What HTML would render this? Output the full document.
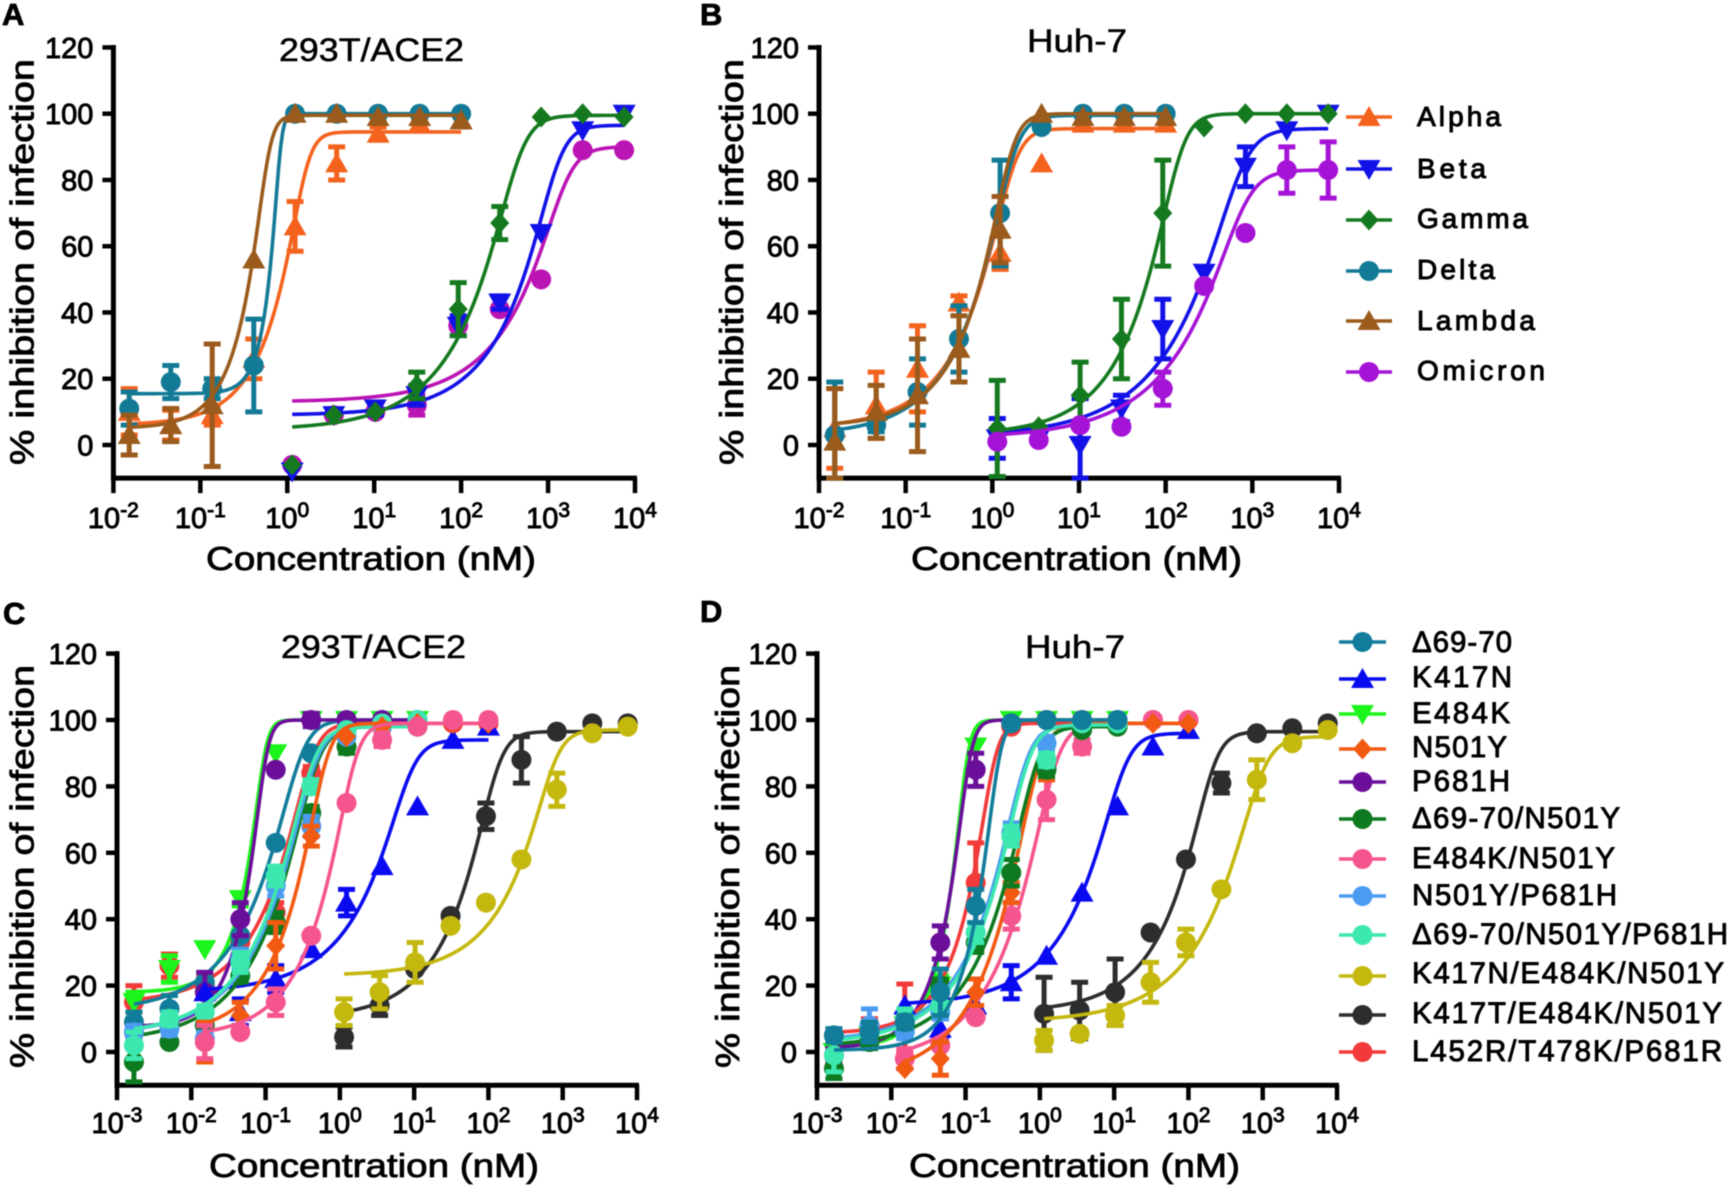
<!DOCTYPE html>
<html lang="en">
<head>
<meta charset="utf-8">
<title>Inhibition of infection curves</title>
<style>
html,body{margin:0;padding:0;background:#fff;}
#figure{display:block;filter:blur(0.6px);}
text{font-family:"Liberation Sans",sans-serif;fill:#000;}
</style>
</head>
<body>
<svg id="figure" xmlns="http://www.w3.org/2000/svg" width="1734" height="1192" viewBox="0 0 1734 1192"></svg>
<script>
// ---------- shared dose series (nM) ----------
const dosesAB_low = [0.0152, 0.0457, 0.137, 0.412, 1.23, 3.70, 11.1, 33.3, 100];
const dosesAB_high = [1.14, 3.43, 10.3, 30.9, 92.6, 278, 833, 2500, 7500];
const dosesCD_low = [0.00169, 0.00508, 0.0152, 0.0457, 0.137, 0.412, 1.23, 3.70, 11.1];
const dosesCD_mid = [0.0152, 0.0457, 0.137, 0.412, 1.23, 3.70, 11.1, 33.3, 100];
const dosesCD_full = [0.00169, 0.00508, 0.0152, 0.0457, 0.137, 0.412, 1.23, 3.70, 11.1, 33.3, 100];
const dosesCD_high = [1.14, 3.43, 10.3, 30.9, 92.6, 278, 833, 2500, 7500];

const yTickValues = [0, 20, 40, 60, 80, 100, 120];
const xExponentsAB = [-2, -1, 0, 1, 2, 3, 4];
const xExponentsCD = [-3, -2, -1, 0, 1, 2, 3, 4];

// ---------- panel A: means, errors, fit [bottom, top, midpoint, hill, asymmetry] ----------
const A_alpha_y = [10, 6, 9, 26, 66, 85, 94, 97, 98];
const A_alpha_err = [7, 4.5, 3, 6, 7.5, 5, 2, 2, 2];
const A_alpha_fit = [6, 94.5, 1.6, 5.3, 0.22];
const A_beta_y = [-8, 9, 11, 15, 36, 43, 64, 95, 100];
const A_beta_err = [1, 1, 2, 3, 3, 2, 1, 1, 1];
const A_beta_fit = [9, 96.5, 1259, 3.8, 0.22];
const A_gamma_y = [-6, 9, 10, 18, 41, 67, 99, 100, 99];
const A_gamma_err = [1, 1, 1, 4, 8, 5, 0.5, 0.5, 0.5];
const A_gamma_fit = [4.5, 99.5, 452, 3.5, 0.22];
const A_delta_y = [11, 19, 17, 24, 100, 100, 100, 100, 100];
const A_delta_err = [5, 5, 3, 14, 0.5, 0.5, 0.5, 0.5, 0.5];
const A_delta_fit = [15.5, 100, 0.824, 14, 0.22];
const A_lambda_y = [3, 6, 12, 56, 100, 100, 99, 99, 98];
const A_lambda_err = [6, 5, 18.5, 1, 0.5, 0.5, 0.5, 0.5, 0.5];
const A_lambda_fit = [5, 99.5, 0.593, 7, 0.22];
const A_omicron_y = [-6, 9, 10, 12, 36, 41, 50, 89, 89];
const A_omicron_err = [1, 1, 1, 3, 1, 1, 1, 1, 1];
const A_omicron_fit = [13, 90, 1585, 3.5, 0.22];

// ---------- panel B ----------
const B_alpha_y = [5, 12, 23, 43, 58, 85, 97, 97, 97];
const B_alpha_err = [12, 10, 13, 2, 5, 0.5, 1, 1, 1];
const B_alpha_fit = [5, 95.5, 1.68, 4, 0.22];
const B_beta_y = [2, 2, 0, 11, 35, 52, 84, 95, 100];
const B_beta_err = [6, 1, 14, 4, 9, 1, 6, 1, 1];
const B_beta_fit = [2.5, 95.5, 720, 3, 0.22];
const B_gamma_y = [5, 5.5, 15, 32, 70, 96, 100, 100, 100];
const B_gamma_err = [14.5, 1, 10, 12, 16, 1, 0.5, 0.5, 0.5];
const B_gamma_fit = [3, 100, 141, 4, 0.22];
const B_delta_y = [3, 6, 16, 32, 70, 96, 100, 100, 100];
const B_delta_err = [16, 2, 10, 10, 16, 1, 0.5, 0.5, 0.5];
const B_delta_fit = [3, 99.5, 1.68, 4, 0.22];
const B_lambda_y = [1, 10, 15, 29, 65, 100, 99, 99, 99];
const B_lambda_err = [16, 8, 17, 10, 10, 0.5, 1, 1, 1];
const B_lambda_fit = [5.5, 100, 1.58, 4.5, 0.22];
const B_omicron_y = [1, 1.5, 6, 5.5, 17, 48, 64, 83, 83];
const B_omicron_err = [1, 1, 1, 1, 5, 1, 1, 7, 8.5];
const B_omicron_fit = [2, 83, 780, 3, 0.22];

// ---------- panel C ----------
const C_d6970_y = [9, 13, 21, 35, 63, 90, 100, 100, 100];
const C_d6970_err = [3, 4, 3, 4, 1, 1, 1, 1, 1];
const C_d6970_fit = [12, 100, 0.282, 3.2, 0.22];
const C_k417n_y = [18, 12, 22, 31, 45, 56, 74, 94, 98];
const C_k417n_err = [1, 4, 4, 1, 4, 1, 1, 1, 1];
const C_k417n_fit = [18, 94, 8.6, 3.2, 0.22];
const C_e484k_y = [15, 25, 31, 46, 90, 100, 100, 100, 100];
const C_e484k_err = [3, 4, 1, 2, 1, 1, 1, 1, 1];
const C_e484k_fit = [18, 100, 0.0946, 7, 0.22];
const C_n501y_y = [3, 11, 32, 65, 95, 98, 99, 99, 99];
const C_n501y_err = [6, 4, 7, 3, 1, 1, 1, 1, 1];
const C_n501y_fit = [5, 99, 0.615, 4, 0.22];
const C_p681h_y = [6, 9, 18, 40, 85, 100, 100, 100, 100];
const C_p681h_err = [2, 2, 6, 5, 1, 2, 1, 1, 1];
const C_p681h_fit = [7.5, 100, 0.098, 6.5, 0.22];
const C_d6970n501y_y = [-3, 3, 8, 23, 39, 72, 92, 98, 98];
const C_d6970n501y_err = [6, 1, 2, 2, 3, 2, 2, 1, 1];
const C_d6970n501y_fit = [3, 98, 0.45, 3.2, 0.22];
const C_e484kn501y_y = [3, 6, 15, 35, 75, 94, 98, 100, 100];
const C_e484kn501y_err = [5, 1, 4, 1, 1, 2, 1, 1, 1];
const C_e484kn501y_fit = [4.5, 99, 1.5, 4, 0.22];
const C_n501yp681h_y = [6, 7, 4, 28, 50, 68, 95, 98, 98];
const C_n501yp681h_err = [2, 2, 2, 3, 3, 3, 1, 1, 1];
const C_n501yp681h_fit = [5, 98, 0.43, 3.2, 0.22];
const C_triple_y = [2, 10, 12, 27, 53, 80, 97, 99, 100];
const C_triple_err = [4, 2, 2, 3, 3, 2, 1, 1, 1];
const C_triple_fit = [5, 98, 0.40, 3.2, 0.22];
const C_k417ne_y = [12, 18, 27, 38, 45, 58, 79, 96, 98];
const C_k417ne_err = [4, 5, 6, 1, 1, 1, 5, 1, 1];
const C_k417ne_fit = [23, 97, 753, 3.5, 0.22];
const C_k417te_y = [4.5, 14, 25, 41, 71, 88, 96.5, 99, 99];
const C_k417te_err = [3, 3, 1, 1, 4, 7, 1, 1, 1];
const C_k417te_fit = [10, 96.5, 127, 3.6, 0.22];
const C_l452r_y = [15, 26, 20, 33, 42, 84, 97, 99, 99, 99, 99];
const C_l452r_err = [5, 3.5, 3, 3, 3, 2, 1, 1, 1, 1, 1];
const C_l452r_fit = [14.5, 99, 0.4, 3.5, 0.22];

// ---------- panel D ----------
const D_d6970_y = [5, 6, 9, 18, 44, 99, 100, 100, 100];
const D_d6970_err = [2, 3, 2, 7, 5, 1, 1, 1, 1];
const D_d6970_fit = [0.5, 100, 0.27, 6, 0.22];
const D_k417n_y = [14, 7, 14, 21, 29, 48, 74, 92, 97];
const D_k417n_err = [1, 3, 1, 5, 1, 1, 1, 1, 1];
const D_k417n_fit = [14, 96, 13, 3.2, 0.22];
const D_e484k_y = [0, 5, 8, 20, 92, 100, 100, 100, 100];
const D_e484k_err = [2, 2, 2, 3, 1, 1, 1, 1, 1];
const D_e484k_fit = [1.5, 100, 0.101, 7, 0.22];
const D_n501y_y = [-5, -2, 18, 48, 84, 97, 99, 99, 99];
const D_n501y_err = [1, 5, 4, 3, 2, 1, 1, 1, 1];
const D_n501y_fit = [-8, 99, 0.89, 3.4, 0.22];
const D_p681h_y = [-1, 4, 9, 33, 85, 99, 100, 100, 100];
const D_p681h_err = [2, 2, 2, 5, 5, 1, 1, 1, 1];
const D_p681h_fit = [1, 100, 0.109, 6, 0.22];
const D_d6970n501y_y = [-5, 3, 7, 20, 33, 54, 85, 97, 98];
const D_d6970n501y_err = [3, 2, 2, 2, 3, 4, 2, 1, 1];
const D_d6970n501y_fit = [1.5, 98, 0.83, 3.4, 0.22];
const D_e484kn501y_y = [-2, 2, 10.5, 41, 76, 92, 98, 100, 100];
const D_e484kn501y_err = [3, 1, 1, 4, 6, 2, 1, 1, 1];
const D_e484kn501y_fit = [-3, 99, 1.52, 3.3, 0.22];
const D_n501yp681h_y = [5, 8, 6, 12, 36, 66, 93, 99, 100];
const D_n501yp681h_err = [2, 5, 2, 2, 3, 3, 2, 1, 1];
const D_n501yp681h_fit = [3, 98.5, 0.6, 3.4, 0.22];
const D_triple_y = [-1, 6, 10, 14, 36, 65, 88, 99, 99];
const D_triple_err = [5, 3, 3, 3, 3, 3, 2, 1, 1];
const D_triple_fit = [2.5, 98.5, 0.635, 3.4, 0.22];
const D_k417ne_y = [3.5, 5.5, 11, 21, 33, 49, 82, 93, 97];
const D_k417ne_err = [3, 1, 3, 6, 4, 1, 6, 1, 1];
const D_k417ne_fit = [9, 95, 933, 3, 0.22];
const D_k417te_y = [11.5, 12.5, 18, 36, 58, 81, 96, 97.5, 99];
const D_k417te_err = [11, 8.5, 10, 1, 1, 3, 1, 1, 1];
const D_k417te_fit = [12, 96.5, 207, 3.6, 0.22];
const D_l452r_y = [5, 8, 10, 14, 51, 98, 100, 100, 100, 100, 100];
const D_l452r_err = [1, 2, 10.5, 2, 12, 1, 1, 1, 1, 1, 1];
const D_l452r_fit = [5.5, 99, 0.233, 5, 0.22];

// ---------- series definitions ----------
const seriesA = [
  {id:'alpha', color:'#f4631e', shape:'up', doses:dosesAB_low, y:A_alpha_y, err:A_alpha_err, fit:A_alpha_fit},
  {id:'omicron', color:'#bb14b4', shape:'circle', doses:dosesAB_high, y:A_omicron_y, err:A_omicron_err, fit:A_omicron_fit},
  {id:'beta', color:'#1212e8', shape:'down', doses:dosesAB_high, y:A_beta_y, err:A_beta_err, fit:A_beta_fit},
  {id:'gamma', color:'#157a1f', shape:'diamond', doses:dosesAB_high, y:A_gamma_y, err:A_gamma_err, fit:A_gamma_fit},
  {id:'delta', color:'#137a96', shape:'circle', doses:dosesAB_low, y:A_delta_y, err:A_delta_err, fit:A_delta_fit},
  {id:'lambda', color:'#9a5b1c', shape:'up', doses:dosesAB_low, y:A_lambda_y, err:A_lambda_err, fit:A_lambda_fit}
];
const seriesB = [
  {id:'alpha', color:'#f4631e', shape:'up', doses:dosesAB_low, y:B_alpha_y, err:B_alpha_err, fit:B_alpha_fit},
  {id:'beta', color:'#1212e8', shape:'down', doses:dosesAB_high, y:B_beta_y, err:B_beta_err, fit:B_beta_fit},
  {id:'gamma', color:'#157a1f', shape:'diamond', doses:dosesAB_high, y:B_gamma_y, err:B_gamma_err, fit:B_gamma_fit},
  {id:'delta', color:'#137a96', shape:'circle', doses:dosesAB_low, y:B_delta_y, err:B_delta_err, fit:B_delta_fit},
  {id:'lambda', color:'#9a5b1c', shape:'up', doses:dosesAB_low, y:B_lambda_y, err:B_lambda_err, fit:B_lambda_fit},
  {id:'omicron', color:'#a514d6', shape:'circle', doses:dosesAB_high, y:B_omicron_y, err:B_omicron_err, fit:B_omicron_fit}
];
const seriesC = [
  {id:'l452r-t478k-p681r', color:'#f23a3a', shape:'circle', doses:dosesCD_full, y:C_l452r_y, err:C_l452r_err, fit:C_l452r_fit},
  {id:'e484k', color:'#1bf51b', shape:'down', doses:dosesCD_low, y:C_e484k_y, err:C_e484k_err, fit:C_e484k_fit},
  {id:'d69-70', color:'#127d9b', shape:'circle', doses:dosesCD_low, y:C_d6970_y, err:C_d6970_err, fit:C_d6970_fit},
  {id:'p681h', color:'#6b0f9a', shape:'circle', doses:dosesCD_low, y:C_p681h_y, err:C_p681h_err, fit:C_p681h_fit},
  {id:'k417n', color:'#0a0af0', shape:'up', doses:dosesCD_mid, y:C_k417n_y, err:C_k417n_err, fit:C_k417n_fit},
  {id:'d69-70-n501y', color:'#0d7a1f', shape:'circle', doses:dosesCD_low, y:C_d6970n501y_y, err:C_d6970n501y_err, fit:C_d6970n501y_fit},
  {id:'n501y-p681h', color:'#4b9cf0', shape:'circle', doses:dosesCD_low, y:C_n501yp681h_y, err:C_n501yp681h_err, fit:C_n501yp681h_fit},
  {id:'d69-70-n501y-p681h', color:'#3de8b0', shape:'circle', doses:dosesCD_low, y:C_triple_y, err:C_triple_err, fit:C_triple_fit},
  {id:'n501y', color:'#f25a12', shape:'diamond', doses:dosesCD_mid, y:C_n501y_y, err:C_n501y_err, fit:C_n501y_fit},
  {id:'e484k-n501y', color:'#f5558f', shape:'circle', doses:dosesCD_mid, y:C_e484kn501y_y, err:C_e484kn501y_err, fit:C_e484kn501y_fit},
  {id:'k417t-e484k-n501y', color:'#2d2d2d', shape:'circle', doses:dosesCD_high, y:C_k417te_y, err:C_k417te_err, fit:C_k417te_fit},
  {id:'k417n-e484k-n501y', color:'#c4b80f', shape:'circle', doses:dosesCD_high, y:C_k417ne_y, err:C_k417ne_err, fit:C_k417ne_fit}
];
const seriesD = [
  {id:'e484k', color:'#1bf51b', shape:'down', doses:dosesCD_low, y:D_e484k_y, err:D_e484k_err, fit:D_e484k_fit},
  {id:'p681h', color:'#6b0f9a', shape:'circle', doses:dosesCD_low, y:D_p681h_y, err:D_p681h_err, fit:D_p681h_fit},
  {id:'l452r-t478k-p681r', color:'#f23a3a', shape:'circle', doses:dosesCD_full, y:D_l452r_y, err:D_l452r_err, fit:D_l452r_fit},
  {id:'k417n', color:'#0a0af0', shape:'up', doses:dosesCD_mid, y:D_k417n_y, err:D_k417n_err, fit:D_k417n_fit},
  {id:'e484k-n501y', color:'#f5558f', shape:'circle', doses:dosesCD_mid, y:D_e484kn501y_y, err:D_e484kn501y_err, fit:D_e484kn501y_fit},
  {id:'n501y', color:'#f25a12', shape:'diamond', doses:dosesCD_mid, y:D_n501y_y, err:D_n501y_err, fit:D_n501y_fit},
  {id:'d69-70-n501y', color:'#0d7a1f', shape:'circle', doses:dosesCD_low, y:D_d6970n501y_y, err:D_d6970n501y_err, fit:D_d6970n501y_fit},
  {id:'n501y-p681h', color:'#4b9cf0', shape:'circle', doses:dosesCD_low, y:D_n501yp681h_y, err:D_n501yp681h_err, fit:D_n501yp681h_fit},
  {id:'d69-70-n501y-p681h', color:'#3de8b0', shape:'circle', doses:dosesCD_low, y:D_triple_y, err:D_triple_err, fit:D_triple_fit},
  {id:'d69-70', color:'#127d9b', shape:'circle', doses:dosesCD_low, y:D_d6970_y, err:D_d6970_err, fit:D_d6970_fit},
  {id:'k417t-e484k-n501y', color:'#2d2d2d', shape:'circle', doses:dosesCD_high, y:D_k417te_y, err:D_k417te_err, fit:D_k417te_fit},
  {id:'k417n-e484k-n501y', color:'#c4b80f', shape:'circle', doses:dosesCD_high, y:D_k417ne_y, err:D_k417ne_err, fit:D_k417ne_fit}
];

const legendB = [
  {label:'Alpha', color:'#f4631e', shape:'up', rowY:117, base:126, width:84},
  {label:'Beta', color:'#1212e8', shape:'down', rowY:169, base:178, width:69},
  {label:'Gamma', color:'#157a1f', shape:'diamond', rowY:220, base:228, width:111},
  {label:'Delta', color:'#137a96', shape:'circle', rowY:271, base:279, width:78},
  {label:'Lambda', color:'#9a5b1c', shape:'up', rowY:321, base:330, width:118},
  {label:'Omicron', color:'#a514d6', shape:'circle', rowY:372, base:380, width:128}
];
const legendD = [
  {label:'\u039469-70', color:'#127d9b', shape:'circle', rowY:642, base:652, width:100},
  {label:'K417N', color:'#0a0af0', shape:'up', rowY:679, base:687, width:100},
  {label:'E484K', color:'#1bf51b', shape:'down', rowY:714, base:723, width:98},
  {label:'N501Y', color:'#f25a12', shape:'diamond', rowY:749, base:757, width:95},
  {label:'P681H', color:'#6b0f9a', shape:'circle', rowY:782, base:791, width:98},
  {label:'\u039469-70/N501Y', color:'#0d7a1f', shape:'circle', rowY:819, base:828, width:208},
  {label:'E484K/N501Y', color:'#f5558f', shape:'circle', rowY:859, base:868, width:203},
  {label:'N501Y/P681H', color:'#4b9cf0', shape:'circle', rowY:896, base:905, width:205},
  {label:'\u039469-70/N501Y/P681H', color:'#3de8b0', shape:'circle', rowY:935, base:944, width:316},
  {label:'K417N/E484K/N501Y', color:'#c4b80f', shape:'circle', rowY:976, base:983, width:312},
  {label:'K417T/E484K/N501Y', color:'#2d2d2d', shape:'circle', rowY:1015, base:1023, width:310},
  {label:'L452R/T478K/P681R', color:'#f23a3a', shape:'circle', rowY:1052, base:1061, width:310}
];

const panels = [
  {key:'a', letter:'A', letterX:2, letterY:25, series:seriesA, exps:xExponentsAB, x0:113.4, x1:635, y0:445, y100:113.7,
   title:'293T/ACE2', titleX:279, titleY:61, titleW:185, tickBase:50, xTitleX:206, xTitleY:570, xTitleW:330, yTitleX:33.5, yTitleBottom:465, yTitleLen:406},
  {key:'b', letter:'B', letterX:700, letterY:25, series:seriesB, exps:xExponentsAB, x0:819, x1:1339, y0:445, y100:113.7,
   title:'Huh-7', titleX:1027, titleY:52, titleW:100, tickBase:50, xTitleX:911, xTitleY:570, xTitleW:331, yTitleX:743, yTitleBottom:465, yTitleLen:406},
  {key:'c', letter:'C', letterX:3, letterY:624, series:seriesC, exps:xExponentsCD, x0:117, x1:637, y0:1052, y100:720,
   title:'293T/ACE2', titleX:281, titleY:658, titleW:185, tickBase:48, xTitleX:209, xTitleY:1177, xTitleW:330, yTitleX:33.5, yTitleBottom:1068, yTitleLen:403},
  {key:'d', letter:'D', letterX:700, letterY:622, series:seriesD, exps:xExponentsCD, x0:817, x1:1337, y0:1052, y100:720,
   title:'Huh-7', titleX:1025, titleY:658, titleW:100, tickBase:48, xTitleX:909, xTitleY:1177, xTitleW:331, yTitleX:739, yTitleBottom:1068, yTitleLen:403}
];

const NS = 'http://www.w3.org/2000/svg';
const root = document.getElementById('figure');

function make(parent, tag, attrs) {
  const node = document.createElementNS(NS, tag);
  for (const k in attrs) node.setAttribute(k, attrs[k]);
  parent.appendChild(node);
  return node;
}

function writeText(parent, str, attrs, name) {
  const el = make(parent, 'text', attrs);
  el.textContent = str;
  
  
  return el;
}

function drawMarker(parent, shape, color, cx, cy) {
  let el;
  if (shape === 'circle') {
    el = make(parent, 'circle', {cx: cx, cy: cy, r: 10, fill: color});
  } else if (shape === 'up') {
    el = make(parent, 'polygon', {points: [cx, cy - 11, cx + 11.5, cy + 9, cx - 11.5, cy + 9].join(' '), fill: color});
  } else if (shape === 'down') {
    el = make(parent, 'polygon', {points: [cx, cy + 11, cx + 11.5, cy - 9, cx - 11.5, cy - 9].join(' '), fill: color});
  } else {
    el = make(parent, 'polygon', {points: [cx, cy - 10.5, cx + 9.5, cy, cx, cy + 10.5, cx - 9.5, cy].join(' '), fill: color});
  }
  
  
  return el;
}

function fitValue(fit, dose) {
  return fit[0] + (fit[1] - fit[0]) / Math.pow(1 + Math.pow(fit[2] / dose, fit[3]), fit[4]);
}

function drawPanel(p) {
  const g = make(root, 'g', {});
  
  

  const decade = (p.x1 - p.x0) / (p.exps.length - 1);
  const xScale = function (dose) { return p.x0 + (Math.log10(dose) - p.exps[0]) * decade; };
  const yScale = function (v) { return p.y0 + (p.y100 - p.y0) * v / 100; };
  const yBottom = yScale(-10);

  writeText(g, p.letter, {x: p.letterX, y: p.letterY, 'font-size': 31, 'font-weight': 'bold', stroke: '#000', 'stroke-width': 0.8}, 'panel-letter');
  writeText(g, p.title, {x: p.titleX, y: p.titleY, 'font-size': 32, textLength: p.titleW, lengthAdjust: 'spacingAndGlyphs', stroke: '#000', 'stroke-width': 0.5}, 'panel-title');

  // y axis
  const yAxis = make(g, 'g', {stroke: '#000', 'stroke-width': 5, fill: 'none'});
  
  
  const yLine = make(yAxis, 'line', {x1: p.x0, x2: p.x0, y1: yScale(120) - 2.5, y2: yBottom + 2.5});
  
  
  yTickValues.forEach(function (v) {
    const t = make(yAxis, 'line', {x1: p.x0 - 11, x2: p.x0, y1: yScale(v), y2: yScale(v), 'stroke-width': 4.5});
    
    
    writeText(g, String(v), {x: p.x0 - 20, y: yScale(v) + 10.5, 'font-size': 29, 'text-anchor': 'end', stroke: '#000', 'stroke-width': 0.9}, 'y-tick-label');
  });

  // x axis
  const xAxis = make(g, 'g', {stroke: '#000', 'stroke-width': 5, fill: 'none'});
  
  
  const xLine = make(xAxis, 'line', {x1: p.x0, x2: p.x1 + 2, y1: yBottom, y2: yBottom});
  
  
  p.exps.forEach(function (ex) {
    const px = xScale(Math.pow(10, ex));
    const t = make(xAxis, 'line', {x1: px, x2: px, y1: yBottom, y2: yBottom + 15, 'stroke-width': 4.5});
    
    
    const lab = writeText(g, '10', {x: px, y: yBottom + p.tickBase, 'font-size': 29, 'text-anchor': 'middle', stroke: '#000', 'stroke-width': 0.9}, 'x-tick-label');
    const sup = make(lab, 'tspan', {dy: -11, 'font-size': 21});
    sup.textContent = String(ex);
    
    
  });

  writeText(g, 'Concentration (nM)', {x: p.xTitleX, y: p.xTitleY, 'font-size': 33, textLength: p.xTitleW, lengthAdjust: 'spacingAndGlyphs', stroke: '#000', 'stroke-width': 0.8}, 'x-axis-title');
  writeText(g, '% inhibition of infection', {x: 0, y: 0, 'font-size': 33, textLength: p.yTitleLen, lengthAdjust: 'spacingAndGlyphs', stroke: '#000', 'stroke-width': 0.8, transform: 'translate(' + p.yTitleX + ',' + p.yTitleBottom + ') rotate(-90)'}, 'y-axis-title');

  // series
  p.series.forEach(function (s) {
    const sg = make(g, 'g', {});
    
    

    const lo = Math.log10(s.doses[0]);
    const hi = Math.log10(s.doses[s.doses.length - 1]);
    let d = '';
    for (let i = 0; i <= 160; i++) {
      const dose = Math.pow(10, lo + (hi - lo) * i / 160);
      d += (i ? 'L' : 'M') + xScale(dose).toFixed(2) + ' ' + yScale(fitValue(s.fit, dose)).toFixed(2);
    }
    const curve = make(sg, 'path', {d: d, fill: 'none', stroke: s.color, 'stroke-width': 3.6});
    
    

    s.doses.forEach(function (dose, i) {
      const cx = xScale(dose);
      const cy = yScale(s.y[i]);
      // error bars this small are hidden behind the marker in the figure
      if (s.err[i] > 1.5) {
        const top = yScale(s.y[i] + s.err[i]);
        const bot = Math.min(yScale(s.y[i] - s.err[i]), yBottom);
        const eb = make(sg, 'path', {
          d: 'M' + cx + ' ' + top + 'V' + bot + 'M' + (cx - 8.5) + ' ' + top + 'H' + (cx + 8.5) + 'M' + (cx - 8.5) + ' ' + bot + 'H' + (cx + 8.5),
          fill: 'none', stroke: s.color, 'stroke-width': 5
        });
        
        
      }
      drawMarker(sg, s.shape, s.color, cx, cy);
    });
  });
}

function drawLegend(entries, lineX0, lineX1, textX, fontSize, weight, strokeW, name) {
  const g = make(root, 'g', {});
  
  
  entries.forEach(function (e) {
    const row = make(g, 'g', {});
    
    
    const ln = make(row, 'line', {x1: lineX0, x2: lineX1, y1: e.rowY, y2: e.rowY, stroke: e.color, 'stroke-width': 3.5});
    
    
    drawMarker(row, e.shape, e.color, (lineX0 + lineX1) / 2, e.rowY);
    writeText(row, e.label, {x: textX, y: e.base, 'font-size': fontSize, 'font-weight': weight, textLength: e.width, lengthAdjust: 'spacing', stroke: '#000', 'stroke-width': strokeW}, 'legend-label');
  });
}

panels.forEach(drawPanel);
drawLegend(legendB, 1346, 1392, 1417, 28, 'normal', 1, 'legend-variants');
drawLegend(legendD, 1339, 1386, 1412, 29.5, 'normal', 0.9, 'legend-mutations');
</script>
</body>
</html>
